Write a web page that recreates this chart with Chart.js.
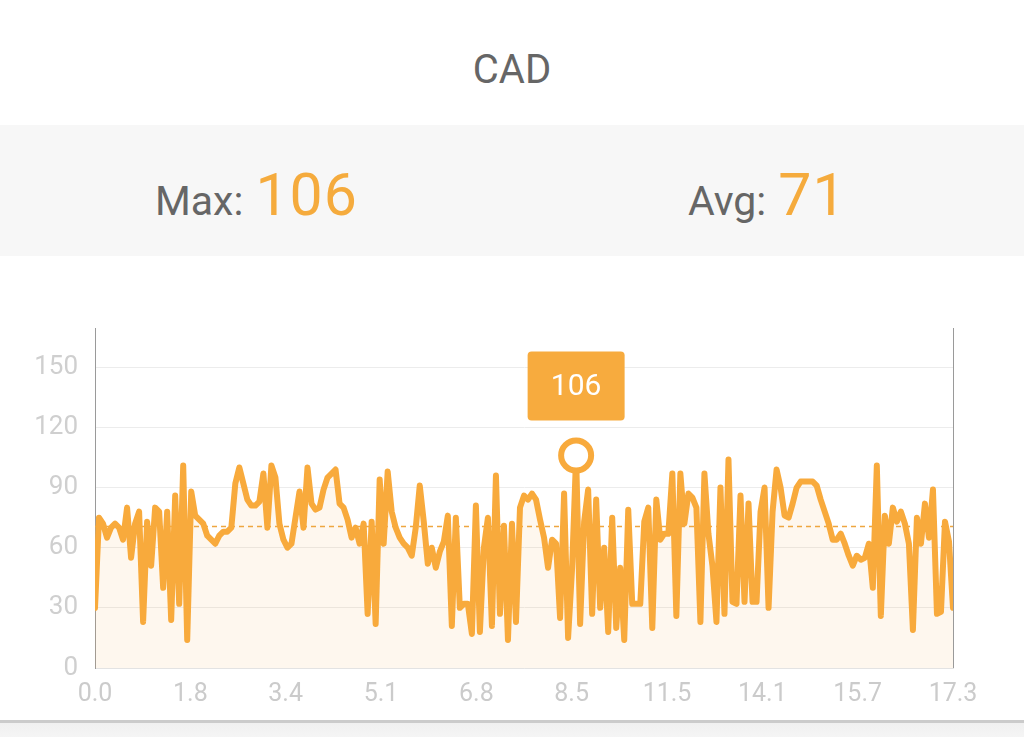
<!DOCTYPE html>
<html><head><meta charset="utf-8">
<script src="https://cdn.jsdelivr.net/npm/chart.js@4.4.1/dist/chart.umd.min.js"></script>
<style>
html,body{margin:0;padding:0;background:#fff;width:1024px;height:737px;overflow:hidden;font-family:Roboto,"Noto Sans",sans-serif;}
#title{position:absolute;left:0;top:45px;width:1024px;text-align:center;font-size:40px;color:#666;line-height:50px;}
#band{position:absolute;left:0;top:125px;width:1024px;height:131px;background:#f7f7f7;}
.stat{position:absolute;white-space:nowrap;line-height:60px;height:60px;}
.lab{font-size:41px;color:#666;}
.val{font-size:59px;color:#f5ab3d;letter-spacing:1px;margin-left:12px;}
#wrap{position:absolute;left:0;top:300px;width:1024px;height:415px;}
#foot{position:absolute;left:0;top:720px;width:1024px;height:17px;background:linear-gradient(#f0f0f0,#f6f6f6);border-top:3px solid #cbcbcb;}
</style>
</head><body>
<div id="title">CAD</div>
<div id="band">
  <div class="stat" style="left:155px;top:40px"><span class="lab">Max:</span><span class="val" id="maxv"></span></div>
  <div class="stat" style="left:688px;top:40px"><span class="lab">Avg:</span><span class="val" id="avgv"></span></div>
</div>
<div id="wrap"><canvas id="c" width="1024" height="415"></canvas></div>
<div id="foot"></div>
<script>
const titleText = "CAD";
const xTickLabels = ["0.0","1.8","3.4","5.1","6.8","8.5","11.5","14.1","15.7","17.3"];
const yTicks = [0,30,60,90,120,150];
const avgValue = 71;
const cadence = [
30,75,72,65,70,72,70,64,80,55,
72,78,23,73,51,80,78,40,78,24,
86,32,101,14,88,76,74,72,66,64,
62,66,68,68,70,92,100,92,84,81,
81,83,97,70,101,95,72,64,60,62,
75,88,70,100,82,79,80,89,95,97,
99,82,80,74,65,70,62,72,27,73,
22,94,62,98,78,70,65,62,60,56,
70,91,73,52,60,50,58,63,76,21,
75,30,32,32,17,81,18,60,75,21,
96,27,71,14,72,23,80,86,84,87,
84,74,65,50,64,62,25,87,15,50,
106,22,73,89,27,84,30,60,18,75,
20,50,14,79,32,32,32,73,80,20,
84,64,67,67,97,26,97,72,87,85,
80,23,97,67,51,23,90,27,104,33,
32,86,33,82,33,33,78,90,30,78,
99,90,76,75,82,90,93,93,93,93,
91,84,78,72,64,64,67,62,56,51,
56,54,55,62,40,101,26,76,62,80,
73,78,72,62,19,75,62,82,65,89,
27,28,73,63,30
];

const maxValue = Math.max(...cadence);
const maxIndex = cadence.indexOf(maxValue);
document.getElementById('maxv').textContent = maxValue;
document.getElementById('avgv').textContent = avgValue;

const ORANGE = '#f8aa3c';
const points = cadence.map((v,i)=>({x:i,y:v}));
const lastIdx = cadence.length-1;

const decor = {
  id:'decor',
  beforeDatasetsDraw(chart){
    const {ctx, chartArea:a, scales:{y}} = chart;
    const yy = Math.round(y.getPixelForValue(avgValue))+0.5;
    ctx.save();
    ctx.strokeStyle = '#eea640';
    ctx.lineWidth = 1.5;
    ctx.setLineDash([5,4]);
    ctx.beginPath(); ctx.moveTo(a.left, yy); ctx.lineTo(a.right, yy); ctx.stroke();
    ctx.restore();
  },
  afterDatasetsDraw(chart){
    const {ctx, chartArea:a, scales:{x,y}} = chart;
    ctx.save();
    ctx.strokeStyle = '#9a9a9a'; ctx.lineWidth = 1;
    ctx.beginPath(); ctx.moveTo(Math.round(a.right)+0.5, a.top); ctx.lineTo(Math.round(a.right)+0.5, a.bottom); ctx.stroke();
    const px = x.getPixelForValue(maxIndex), py = y.getPixelForValue(maxValue);
    ctx.beginPath(); ctx.arc(px, py, 15, 0, Math.PI*2);
    ctx.fillStyle = '#fff'; ctx.fill();
    ctx.lineWidth = 6; ctx.strokeStyle = ORANGE; ctx.stroke();
    const w = 97, h = 69, bx = px - w/2, by = py - 35 - h;
    ctx.fillStyle = '#f7ab3e';
    ctx.beginPath();
    if (ctx.roundRect) ctx.roundRect(bx, by, w, h, 4); else ctx.rect(bx,by,w,h);
    ctx.fill();
    ctx.fillStyle = '#fff';
    ctx.font = '30px Roboto';
    ctx.textAlign = 'center'; ctx.textBaseline = 'middle';
    ctx.fillText(String(maxValue), px, by + h/2 + 1);
    ctx.restore();
  }
};

new Chart(document.getElementById('c'), {
  type:'line',
  data:{datasets:[{
    data: points,
    borderColor: ORANGE,
    borderWidth: 6,
    backgroundColor: 'rgba(245,170,70,0.09)',
    fill: 'origin',
    pointRadius: 0,
    tension: 0,
    borderJoinStyle: 'round',
    borderCapStyle: 'round'
  }]},
  options:{
    responsive:false,
    devicePixelRatio:1,
    animation:false,
    layout:{padding:{left:0,right:71,top:28,bottom:0}},
    plugins:{legend:{display:false},tooltip:{enabled:false}},
    scales:{
      x:{
        type:'linear', min:0, max:lastIdx,
        afterBuildTicks(s){ s.ticks = xTickLabels.map((l,i)=>({value: i*lastIdx/(xTickLabels.length-1)})); },
        afterFit(s){ s.height = 47; },
        ticks:{ autoSkip:false, maxRotation:0, padding:12, color:'#cbcbcb', font:{family:'Roboto', size:25},
          callback(v, i){ return xTickLabels[i]; } },
        grid:{ display:false, drawTicks:false },
        border:{ display:true, color:'#e3e3e3', width:1 }
      },
      y:{
        type:'linear', min:0, max: maxValue*1.6,
        afterBuildTicks(s){ s.ticks = yTicks.map(v=>({value:v})); },
        afterFit(s){ s.width = 95; s.paddingTop = 0; s.paddingBottom = 0; },
        ticks:{ padding:17, color:'#cfcfcf', font:{family:'Roboto', size:26} },
        grid:{ color:'#ececec', lineWidth:1, drawTicks:false },
        border:{ display:true, color:'#9a9a9a', width:1 }
      }
    }
  },
  plugins:[decor]
});
</script>
</body></html>
